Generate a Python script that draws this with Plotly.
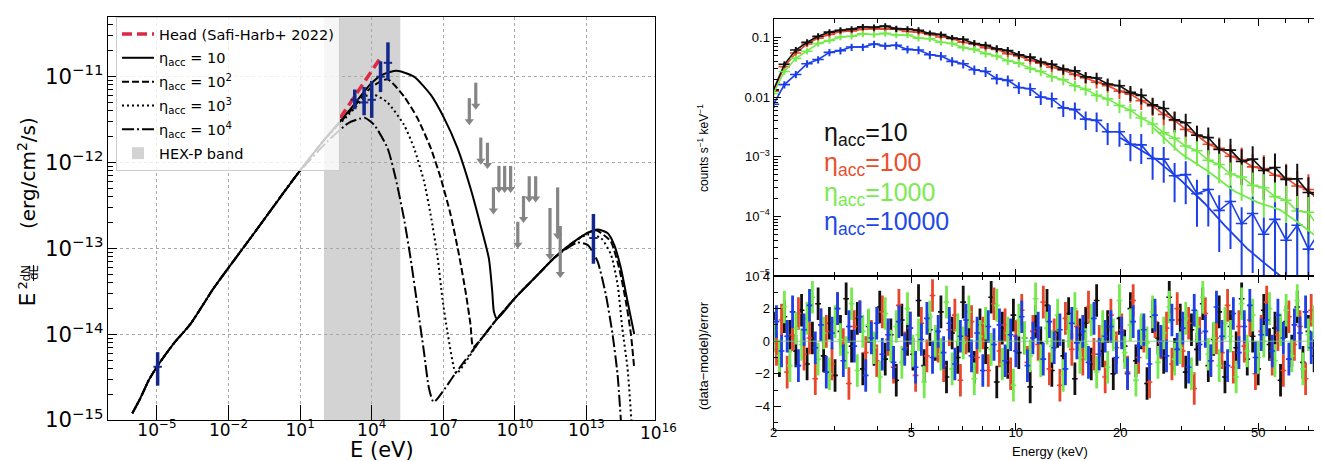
import plotly.graph_objects as go

# ===================== Left panel : broadband SED =====================
# shared low-energy synchrotron branch (E in eV, E^2 dN/dE in erg/cm2/s)
E_low = [9.33e-7, 2.0e-6, 4.47e-6, 1.0e-5, 5.01e-5, 2.57e-4, 2.45e-3, 0.1, 7.41, 100.0]
F_low = [1.20e-15, 1.78e-15, 2.88e-15, 4.17e-15, 7.76e-15, 1.32e-14, 3.47e-14, 1.41e-13, 7.24e-13, 1.82e-12]

# eta_acc = 10
E_eta1 = [1.10e3, 1.0e4, 3.16e4, 1.12e5, 5.89e5, 2.95e6, 1.07e7, 3.89e7, 1.38e8, 3.63e8,
          8.13e8, 1.12e9, 1.32e9, 1.78e9, 1.0e10, 8.91e10, 4.47e11, 2.19e12, 1.10e13, 2.88e13,
          7.59e13, 1.45e14, 2.75e14, 5.25e14, 1.0e15]
F_eta1 = [3.98e-12, 8.51e-12, 1.07e-11, 1.17e-11, 1.0e-11, 6.17e-12, 3.31e-12, 1.48e-12, 5.01e-13, 1.86e-13,
          7.59e-14, 3.16e-14, 1.82e-14, 1.51e-14, 2.63e-14, 4.90e-14, 7.76e-14, 1.12e-13, 1.51e-13, 1.66e-13,
          1.51e-13, 1.10e-13, 5.89e-14, 2.40e-14, 1.0e-14]
# eta_acc = 1e2
E_eta2 = [1.10e3, 1.0e4, 4.57e4, 2.24e5, 8.13e5, 2.95e6, 7.76e6, 2.04e7, 4.57e7, 8.51e7,
          1.38e8, 1.78e8, 3.98e8, 1.78e9, 1.0e10, 8.91e10, 4.47e11, 2.19e12, 1.10e13, 2.51e13,
          5.62e13, 1.05e14, 2.34e14, 4.47e14, 7.24e14, 1.0e15]
F_eta2 = [3.80e-12, 7.59e-12, 9.33e-12, 5.89e-12, 3.31e-12, 1.48e-12, 6.61e-13, 2.45e-13, 8.32e-14, 3.16e-14,
          1.29e-14, 7.08e-15, 8.91e-15, 1.51e-14, 2.63e-14, 4.90e-14, 7.76e-14, 1.12e-13, 1.51e-13, 1.62e-13,
          1.41e-13, 1.20e-13, 5.89e-14, 2.40e-14, 1.0e-14, 3.98e-15]
# eta_acc = 1e3
E_eta3 = [1.10e3, 6.31e3, 1.26e4, 4.57e4, 2.24e5, 5.89e5, 1.55e6, 2.95e6, 5.62e6, 9.12e6,
          1.48e7, 2.82e7, 3.55e7, 3.16e8, 1.78e9, 1.0e10, 8.91e10, 4.47e11, 2.19e12, 1.10e13,
          3.98e13, 1.05e14, 2.0e14, 3.16e14, 5.25e14, 7.59e14]
F_eta3 = [3.63e-12, 6.03e-12, 6.17e-12, 5.01e-12, 2.75e-12, 1.48e-12, 6.03e-13, 2.45e-13, 8.32e-14, 2.63e-14,
          1.07e-14, 3.98e-15, 3.47e-15, 8.13e-15, 1.51e-14, 2.63e-14, 4.90e-14, 7.76e-14, 1.12e-13, 1.45e-13,
          1.32e-13, 8.51e-14, 3.80e-14, 1.17e-14, 3.98e-15, 1.0e-15]
# eta_acc = 1e4 (branches off before the last low-energy point)
E_eta4 = [135.0, 1.05e3, 3.16e3, 5.25e3, 1.26e4, 4.57e4, 1.0e5, 2.24e5, 4.27e5, 8.13e5,
          1.55e6, 2.51e6, 3.98e6, 3.16e7, 3.16e8, 1.78e9, 1.0e10, 8.91e10, 4.47e11, 2.19e12,
          4.17e12, 1.10e13, 2.88e13, 6.46e13, 1.23e14, 2.0e14, 2.75e14]
F_eta4 = [1.74e-12, 2.88e-12, 3.24e-12, 3.31e-12, 2.75e-12, 1.48e-12, 6.61e-13, 2.24e-13, 7.59e-14, 2.19e-14,
          6.17e-15, 2.34e-15, 1.62e-15, 3.47e-15, 8.13e-15, 1.51e-14, 2.63e-14, 4.90e-14, 7.76e-14, 1.07e-13,
          1.17e-13, 1.10e-13, 7.08e-14, 2.88e-14, 1.0e-14, 3.39e-15, 1.0e-15]

# Head spectrum (Safi-Harb+ 2022)
head_E = [479.0, 2.34e4]
head_F = [3.31e-12, 1.66e-11]

# measured points (radio, X-ray, TeV)
pts_E = [1.07e-5, 1.95e3, 4.79e3, 1.0e4, 2.34e4, 4.79e4, 1.95e13]
pts_F = [4.17e-15, 5.37e-12, 5.01e-12, 5.37e-12, 1.0e-11, 1.45e-11, 1.32e-13]
pts_lo = [2.51e-15, 4.17e-12, 3.55e-12, 3.31e-12, 6.61e-12, 9.12e-12, 6.61e-14]
pts_hi = [6.17e-15, 7.08e-12, 7.59e-12, 8.91e-12, 1.51e-11, 2.51e-11, 2.51e-13]

# Fermi-LAT upper limits
ul_E = [1.23e8, 2.29e8, 3.72e8, 7.08e8, 1.26e9, 2.14e9, 3.72e9, 6.61e9, 1.32e10, 2.29e10,
        3.98e10, 7.41e10, 2.95e11, 6.17e11, 7.94e11]
ul_top = [5.62e-12, 8.51e-12, 1.95e-12, 1.70e-12, 5.13e-13, 9.12e-13, 9.12e-13, 9.12e-13, 2.04e-13, 4.07e-13,
          6.92e-13, 6.92e-13, 2.95e-13, 5.13e-13, 1.82e-13]
ul_tip = [3.02e-12, 4.57e-12, 1.05e-12, 9.33e-13, 2.75e-13, 4.90e-13, 4.90e-13, 4.90e-13, 1.10e-13, 2.19e-13,
          3.80e-13, 3.80e-13, 8.13e-14, 1.41e-13, 5.01e-14]

# HEX-P band (eV)
hexp_band = [100.0, 1.58e5]

# x tick labels of the SED
sed_tickvals = [1e-5, 1e-2, 1e1, 1e4, 1e7, 1e10, 1e13]
sed_ticktext = ["10<sup>−5</sup>", "10<sup>−2</sup>", "10<sup>1</sup>", "10<sup>4</sup>",
                "10<sup>7</sup>", "10<sup>10</sup>", "10<sup>13</sup>"]

# ===================== Right panel : simulated spectra =====================
E_spec = [2.00, 2.15, 2.32, 2.50, 2.69, 2.90, 3.12, 3.36, 3.62, 3.90,
          4.20, 4.52, 4.87, 5.24, 5.65, 6.08, 6.55, 7.05, 7.59, 8.18,
          8.81, 9.48, 10.2, 11.0, 11.8, 12.7, 13.7, 14.8, 15.9, 17.1,
          18.4, 19.9, 21.4, 23.0, 24.8, 26.7, 28.7, 30.9, 33.3, 35.9,
          38.6, 41.6, 44.8, 48.2, 51.9, 55.9, 60.2, 64.8, 69.8, 75.2]
cts_eta10 = [0.0132, 0.0355, 0.0617, 0.0832, 0.105, 0.123, 0.132, 0.138, 0.151, 0.148,
             0.155, 0.141, 0.138, 0.132, 0.117, 0.112, 0.0977, 0.0933, 0.0794, 0.0741,
             0.0646, 0.0603, 0.0513, 0.0468, 0.0389, 0.0355, 0.0295, 0.0275, 0.0219, 0.0209,
             0.0166, 0.0155, 0.0120, 0.0107, 0.00741, 0.00646, 0.00417, 0.00372, 0.00229, 0.00209,
             0.00132, 0.00129, 0.000832, 0.000912, 0.000589, 0.000661, 0.000417, 0.000427, 0.000251, 0.000219]
cts_eta100 = [0.0126, 0.0324, 0.0550, 0.0776, 0.0977, 0.112, 0.126, 0.129, 0.138, 0.141,
              0.138, 0.138, 0.126, 0.123, 0.112, 0.102, 0.0955, 0.0832, 0.0776, 0.0676,
              0.0631, 0.0537, 0.0490, 0.0417, 0.0372, 0.0316, 0.0282, 0.0240, 0.0209, 0.0178,
              0.0155, 0.0126, 0.0112, 0.00871, 0.00708, 0.00513, 0.00407, 0.00288, 0.00229, 0.00162,
              0.00138, 0.00102, 0.000891, 0.000676, 0.000631, 0.000490, 0.000437, 0.000324, 0.000282, 0.000166]
cts_eta1000 = [0.0115, 0.0269, 0.0447, 0.0589, 0.0794, 0.0891, 0.102, 0.105, 0.115, 0.112,
               0.117, 0.110, 0.110, 0.0977, 0.0955, 0.0832, 0.0794, 0.0676, 0.0631, 0.0537,
               0.0490, 0.0407, 0.0372, 0.0302, 0.0269, 0.0219, 0.0195, 0.0155, 0.0135, 0.0107,
               0.00933, 0.00724, 0.00603, 0.00447, 0.00355, 0.00251, 0.00204, 0.00151, 0.00126, 0.000871,
               0.000741, 0.000513, 0.000457, 0.000331, 0.000302, 0.000214, 0.000186, 0.000123, 0.000117, 0.0000603]
cts_eta10000 = [0.00759, 0.0162, 0.0240, 0.0363, 0.0427, 0.0562, 0.0603, 0.0692, 0.0692, 0.0776,
                0.0724, 0.0741, 0.0631, 0.0617, 0.0513, 0.0490, 0.0398, 0.0363, 0.0288, 0.0269,
                0.0204, 0.0191, 0.0145, 0.0138, 0.0100, 0.00933, 0.00661, 0.00617, 0.00427, 0.00407,
                0.00263, 0.00263, 0.00162, 0.00158, 0.000933, 0.000912, 0.000479, 0.000501, 0.000240, 0.000282,
                0.000126, 0.000178, 0.0000759, 0.000112, 0.0000501, 0.0000891, 0.0000398, 0.0000708, 0.0000282, 0.0000562]
err_pct = [12, 12, 12, 12, 12, 12, 12, 12, 12, 12, 12, 12, 12, 12, 12, 12, 13, 13, 14, 14,
           15, 15, 16, 16, 17, 18, 19, 20, 21, 22, 24, 26, 28, 30, 32, 35, 38, 41, 44, 48,
           52, 56, 60, 64, 68, 72, 75, 78, 80, 82]
err_pct_blue = [14, 14, 14, 14, 14, 14, 14, 14, 14, 14, 14, 15, 15, 15, 16, 16, 17, 17, 18, 19,
                20, 21, 22, 24, 26, 28, 30, 32, 34, 36, 40, 44, 48, 52, 56, 60, 64, 68, 72, 76,
                80, 84, 88, 90, 92, 94, 95, 96, 97, 97]
# visible model curves at high energy
model_E_green = [25.0, 30.0, 36.0, 42.7, 50.0, 57.8, 65.0, 72.7, 78.0]
model_green = [3.02e-3, 1.12e-3, 5.62e-4, 2.63e-4, 1.70e-4, 1.29e-4, 7.94e-5, 4.90e-5, 3.55e-5]
model_E_blue = [20.0, 25.0, 30.0, 35.0, 40.0, 46.5, 52.0, 58.0]
model_blue = [2.09e-3, 9.55e-4, 3.98e-4, 1.66e-4, 7.08e-5, 2.88e-5, 1.66e-5, 1.0e-5]

# residual energy bins (two interleaved channel sets)
E_res = [2.00, 2.08, 2.15, 2.23, 2.32, 2.41, 2.50, 2.59, 2.69, 2.79,
         2.90, 3.01, 3.12, 3.24, 3.36, 3.49, 3.62, 3.76, 3.90, 4.05,
         4.20, 4.36, 4.52, 4.69, 4.87, 5.05, 5.24, 5.44, 5.65, 5.86,
         6.08, 6.31, 6.55, 6.80, 7.05, 7.32, 7.59, 7.88, 8.18, 8.49,
         8.81, 9.14, 9.48, 9.84, 10.2, 10.6, 11.0, 11.4, 11.8, 12.3,
         12.7, 13.2, 13.7, 14.2, 14.8, 15.3, 15.9, 16.5, 17.1, 17.8,
         18.4, 19.1, 19.9, 20.6, 21.4, 22.2, 23.0, 23.9, 24.8, 25.7,
         26.7, 27.7, 28.7, 29.8, 30.9, 32.1, 33.3, 34.6, 35.9, 37.2,
         38.6, 40.1, 41.6, 43.2, 44.8, 46.5, 48.2, 50.0, 51.9, 53.9,
         55.9, 58.0, 60.2, 62.5, 64.8, 67.3, 69.8, 72.5, 75.2, 78.0]
E_res_b = [2.04, 2.11, 2.19, 2.27, 2.36, 2.45, 2.54, 2.64, 2.74, 2.84,
           2.95, 3.06, 3.18, 3.30, 3.42, 3.55, 3.69, 3.83, 3.97, 4.12,
           4.28, 4.44, 4.60, 4.78, 4.96, 5.14, 5.34, 5.54, 5.75, 5.97,
           6.19, 6.43, 6.67, 6.92, 7.18, 7.45, 7.73, 8.03, 8.33, 8.65,
           8.97, 9.31, 9.66, 10.0, 10.4, 10.8, 11.2, 11.6, 12.0, 12.5,
           12.9, 13.4, 13.9, 14.5, 15.0, 15.6, 16.2, 16.8, 17.4, 18.1,
           18.8, 19.5, 20.2, 21.0, 21.8, 22.6, 23.4, 24.3, 25.2, 26.2,
           27.2, 28.2, 29.2, 30.3, 31.5, 32.7, 33.9, 35.2, 36.5, 37.9,
           39.3, 40.8, 42.4, 44.0, 45.6, 47.3, 49.1, 51.0, 52.9, 54.9,
           57.0, 59.1, 61.3, 63.6, 66.0, 68.5, 71.1, 73.8, 76.6, 78.6]
res_eta10 = [0.8, -1.2, 1.5, 0.3, -0.6, 1.9, -1.4, 0.2, 2.3, -0.9,
             1.1, -2.1, 0.6, 2.6, -0.3, 1.4, -1.7, 0.9, -0.5, 2.1,
             -1.1, 0.4, -2.4, 1.3, 0.1, -0.8, 2.5, -1.5, 0.7, -0.2,
             1.8, -2.2, 0.5, -1.0, 2.4, 0.3, -1.6, 1.0, -0.4, 2.7,
             -2.5, 0.8, -1.3, 1.6, -0.7, 0.2, -2.8, 1.2, -0.1, 2.2,
             -1.8, 0.6, -0.9, 1.7, -2.3, 0.4, 1.1, -1.4, 2.5, -0.6,
             0.9, -2.0, 1.4, -0.3, 2.0, -1.2, 0.5, -2.6, 1.5, 0.2,
             -1.0, 2.7, -0.8, 1.3, -1.9, 0.7, -0.5, 2.3, -1.5, 0.1,
             1.8, -2.2, 0.9, -0.4, 2.6, -1.1, 0.3, -1.7, 1.9, -0.2,
             0.8, -2.4, 1.2, -0.6, 2.1, -1.3, 0.6, -0.9, 1.4, 0.2]
res_eta100 = [-0.5, 1.3, -1.9, 0.4, 1.7, -0.8, 0.2, -2.3, 1.0, 0.6,
              -1.4, 2.0, -0.2, -2.6, 0.9, 1.5, -0.7, 0.3, -1.2, 1.8,
              0.1, -1.6, 2.2, -0.4, 0.8, -2.1, 1.1, -0.9, 2.8, -0.3,
              -1.5, 0.7, 1.6, -2.4, 0.2, 1.2, -1.0, 0.5, -1.8, 2.3,
              -0.6, 1.0, -2.0, 0.3, 1.9, -1.3, 0.6, -0.2, 2.4, -1.7,
              0.4, -2.7, 1.4, -0.5, 0.9, -1.1, 2.1, -0.8, 0.0, -2.2,
              1.6, -0.4, 0.7, -1.9, 2.5, -1.0, 0.3, -2.5, 1.2, -0.1,
              0.8, -1.4, 2.0, -0.6, 1.1, -2.9, 0.5, 1.7, -1.2, 0.2,
              -0.7, 2.2, -1.6, 0.9, -0.3, 1.3, -2.0, 0.6, 2.4, -1.1,
              0.4, -1.8, 1.5, -0.2, 0.9, -2.3, 1.9, -0.5, 0.3, -3.0]
res_eta1000 = [0.3, -0.9, 2.1, -1.5, 0.8, -0.2, 1.4, 2.7, -1.1, 0.5,
               -2.0, 1.2, 0.1, -0.7, 2.3, -1.8, 0.6, 1.0, -0.4, -2.2,
               1.7, -0.3, 0.9, -1.3, 2.0, -0.6, 0.4, -2.5, 1.5, 0.0,
               -0.8, 2.4, -1.7, 0.7, -0.1, 1.8, -2.3, 0.3, 1.1, -0.5,
               2.2, -1.4, 0.5, -2.7, 1.3, 0.2, -0.9, 2.6, -1.2, 0.8,
               -0.3, 1.6, -2.1, 0.6, 2.0, -1.0, -0.2, 1.3, -1.9, 0.9,
               -1.6, 0.4, 2.5, -0.7, 1.0, -2.4, 0.7, -0.1, 1.8, -1.3,
               0.5, 2.1, -1.1, -0.4, 1.4, -2.0, 0.9, 2.7, -0.8, 0.2,
               -1.5, 1.1, 0.3, -2.2, 2.3, -0.6, 1.6, -1.0, 0.0, 2.0,
               -1.2, 0.7, 1.9, -0.9, 2.5, -1.7, 0.4, 1.2, 2.8, -0.6]
res_eta10000 = [1.2, -0.6, 0.3, 1.8, -1.5, 0.7, 2.2, -0.4, 1.0, -1.9,
                0.5, 2.0, -1.2, 0.9, -0.3, 1.5, -2.1, 0.2, 1.1, -0.8,
                0.4, -1.3, 1.2, -0.5, 0.8, -1.6, 0.1, 1.4, -1.0, 0.6,
                -0.7, 1.1, -1.4, 0.3, 1.3, -0.9, 0.5, -1.8, 0.9, -0.2,
                1.0, -1.2, 0.4, -0.6, 1.5, -1.5, 0.2, 0.8, -1.1, 1.2,
                -0.4, 0.7, -1.7, 1.1, -0.1, 0.6, -1.3, 1.4, -0.8, 0.3,
                0.9, -1.0, 0.5, -2.0, 1.2, -0.3, 0.7, -1.4, 1.6, 0.0,
                -0.9, 1.3, -0.5, 0.8, -1.6, 1.9, -0.2, 0.6, -1.2, 2.1,
                0.3, -1.5, 1.7, -0.7, 0.9, 2.2, -1.0, 0.4, 1.3, -0.6,
                1.6, 0.2, -1.1, 1.0, 0.5, 1.8, -0.4, 0.9, -1.8, 0.7]

eta_labels = ["η<sub>acc</sub>=10", "η<sub>acc</sub>=100", "η<sub>acc</sub>=1000", "η<sub>acc</sub>=10000"]

# ===================== styling =====================
W, H = 1322, 461
NAVY = "#14288c"
GRAYARROW = "#858585"
C_BLACK, C_RED, C_GREEN, C_BLUE = "#111111", "#e8472b", "#74ea4c", "#1d3fe8"
LFONT = "DejaVu Sans"
RFONT = "Liberation Sans, Arial, sans-serif"


def px(x):
    return x / W


def py(y):
    return 1 - y / H


fig = go.Figure()

# ---- left panel curves ----
curve_specs = [
    (E_low + E_eta1, F_low + F_eta1, "solid", "η<sub>acc</sub> = 10", 2),
    (E_low + E_eta2, F_low + F_eta2, "7px,3px", "η<sub>acc</sub> = 10<sup>2</sup>", 3),
    (E_low + E_eta3, F_low + F_eta3, "2px,3px", "η<sub>acc</sub> = 10<sup>3</sup>", 4),
    (E_low[:-1] + E_eta4, F_low[:-1] + F_eta4, "12px,3px,2px,3px", "η<sub>acc</sub> = 10<sup>4</sup>", 5),
]
for xs, ys, dash, name, rank in curve_specs:
    fig.add_trace(go.Scatter(x=xs, y=ys, mode="lines", name=name, legendrank=rank,
                             legendgroup="g%d" % rank,
                             line=dict(color="black", width=2, dash=dash, shape="spline", smoothing=0.6),
                             xaxis="x", yaxis="y"))

fig.add_trace(go.Scatter(x=head_E, y=head_F, mode="lines", name="Head (Safi-Harb+ 2022)",
                         legendrank=1, legendgroup="g1",
                         line=dict(color="#dc2a46", width=3.5, dash="10px,5px"),
                         xaxis="x", yaxis="y"))

# upper-limit arrows
sx, sy = [], []
for e, t, b in zip(ul_E, ul_top, ul_tip):
    sx += [e, e, None]
    sy += [t, b, None]
fig.add_trace(go.Scatter(x=sx, y=sy, mode="lines", showlegend=False,
                         line=dict(color=GRAYARROW, width=3.2), xaxis="x", yaxis="y"))
fig.add_trace(go.Scatter(x=ul_E, y=ul_tip, mode="markers", showlegend=False,
                         marker=dict(symbol="triangle-down", size=8, color=GRAYARROW),
                         xaxis="x", yaxis="y"))

# measured points
fig.add_trace(go.Scatter(
    x=pts_E, y=pts_F, mode="markers", showlegend=False,
    marker=dict(symbol="line-ew", size=6, color=NAVY, line=dict(color=NAVY, width=2)),
    error_y=dict(type="data", symmetric=False,
                 array=[h - f for h, f in zip(pts_hi, pts_F)],
                 arrayminus=[f - l for f, l in zip(pts_F, pts_lo)],
                 color=NAVY, thickness=3.5, width=0),
    xaxis="x", yaxis="y"))

# ---- right panel: spectra ----
spec_sets = [
    (cts_eta100, C_RED, err_pct),
    (cts_eta10, C_BLACK, err_pct),
    (cts_eta1000, C_GREEN, err_pct),
    (cts_eta10000, C_BLUE, err_pct_blue),
]
for vals, col, pct in spec_sets:
    fig.add_trace(go.Scatter(
        x=E_spec, y=vals, mode="lines+markers", showlegend=False,
        line=dict(color=col, width=1.6), marker=dict(size=3, color=col),
        error_y=dict(type="data", array=[v * p / 100.0 for v, p in zip(vals, pct)],
                     color=col, thickness=2, width=0),
        error_x=dict(type="percent", value=3.8, color=col, thickness=1.6, width=0),
        xaxis="x2", yaxis="y2"))

fig.add_trace(go.Scatter(x=model_E_green, y=model_green, mode="lines", showlegend=False,
                         line=dict(color=C_GREEN, width=1.8), xaxis="x2", yaxis="y2"))
fig.add_trace(go.Scatter(x=model_E_blue, y=model_blue, mode="lines", showlegend=False,
                         line=dict(color=C_BLUE, width=1.8), xaxis="x2", yaxis="y2"))

# ---- right panel: residuals ----
for ex, vals, col in [(E_res, res_eta10, C_BLACK), (E_res_b, res_eta100, C_RED),
                      (E_res, res_eta1000, C_GREEN), (E_res_b, res_eta10000, C_BLUE)]:
    fig.add_trace(go.Scatter(
        x=ex, y=vals, mode="markers", showlegend=False,
        marker=dict(size=3, color=col),
        error_y=dict(type="constant", value=1.0, color=col, thickness=2.8, width=0),
        error_x=dict(type="percent", value=1.9, color=col, thickness=1.6, width=0),
        xaxis="x3", yaxis="y3"))

# ---- shapes ----
shapes = [
    dict(type="rect", xref="x", yref="y domain", x0=hexp_band[0], x1=hexp_band[1], y0=0, y1=1,
         fillcolor="#d3d3d3", line=dict(width=0), layer="below",
         showlegend=True, name="HEX-P band", legendrank=6, legendgroup="g6"),
    dict(type="line", xref="x3 domain", yref="y3", x0=0, x1=1, y0=0, y1=0,
         line=dict(color="rgba(130,200,130,0.9)", width=1)),
    # fraction bar of dN/dE
    dict(type="line", xref="paper", yref="paper", x0=px(25.5), x1=px(25.5), y0=py(273), y1=py(257),
         line=dict(color="black", width=1)),
]

# ---- annotations ----
def note(text, x, y, size, family, angle=0, color="black", xanchor="center"):
    return dict(text=text, x=px(x), y=py(y), xref="paper", yref="paper", showarrow=False,
                xanchor=xanchor, yanchor="middle", textangle=angle,
                font=dict(family=family, size=size, color=color))


ann = [
    note("E (eV)", 374, 442, 21, LFONT),
    note("10<sup>16</sup>", 650, 424, 17, LFONT),
    note("(erg/cm<sup>2</sup>/s)", 19, 165, 20, LFONT, -90),
    note("E", 18.5, 292, 22, LFONT, -90),
    note("2", 13.5, 277, 13, LFONT, -90),
    note("dN", 17.5, 265, 12, LFONT, -90),
    note("dE", 26, 265, 12, LFONT, -90),
    note("Energy (keV)", 1042, 443, 13, RFONT),
    note("counts s<sup>−1</sup> keV<sup>−1</sup>", 695, 140, 12, RFONT, -90),
    note("(data−model)/error", 695, 348, 13, RFONT, -90),
]
for lab, col, yy in zip(eta_labels, [C_BLACK, "#e8502e", "#7bea52", "#2448e6"], [126, 156, 186, 215]):
    ann.append(note(lab, 814, yy, 25, RFONT, 0, col, "left"))

axis_common = dict(automargin=False, zeroline=False)

fig.update_layout(
    template="none",
    width=W, height=H, margin=dict(l=0, r=0, t=0, b=0, pad=0, autoexpand=False),
    paper_bgcolor="white", plot_bgcolor="white",
    shapes=shapes, annotations=ann,
    legend=dict(x=px(108), y=py(9), xanchor="left", yanchor="top",
                bgcolor="rgba(255,255,255,0.8)", bordercolor="#cccccc", borderwidth=1,
                font=dict(family=LFONT, size=14.5, color="black"), tracegroupgap=2, itemwidth=32),
    xaxis=dict(domain=[px(100), px(647)], type="log", range=[-7.05, 15.87],
               tickvals=sed_tickvals, ticktext=sed_ticktext, ticklabelstandoff=-6,
               ticks="inside", ticklen=15, tickcolor="black",
               showgrid=True, gridcolor="#a8a8a8", griddash="dot", gridwidth=1,
               showline=True, linecolor="black", linewidth=1.3, mirror=True,
               tickfont=dict(family=LFONT, size=17, color="black"), anchor="y", **axis_common),
    yaxis=dict(domain=[py(412), py(9)], type="log", range=[-15, -10.305],
               dtick=1, exponentformat="power", showexponent="all",
               ticks="inside", ticklen=9, tickcolor="black",
               minor=dict(ticks="inside", ticklen=5, tickcolor="black", dtick="D1", showgrid=False),
               showgrid=True, gridcolor="#a8a8a8", griddash="dot", gridwidth=1,
               showline=True, linecolor="black", linewidth=1.3, mirror=True,
               tickfont=dict(family=LFONT, size=17, color="black"), anchor="x", **axis_common),
    xaxis2=dict(domain=[px(765.5), px(1318.5)], type="log", range=[0.30103, 1.896],
                tickvals=[2, 5, 10, 20, 50], showticklabels=False,
                ticks="inside", ticklen=7, tickcolor="black",
                minor=dict(ticks="inside", ticklen=4, tickcolor="black",
                           tickvals=[3, 4, 6, 7, 8, 9, 30, 40, 60, 70]),
                showgrid=False, showline=True, linecolor="black", linewidth=1, mirror="ticks",
                anchor="y2", matches="x3", **axis_common),
    yaxis2=dict(domain=[py(268), py(11)], type="log", range=[-5, -0.69],
                tickvals=[1e-5, 1e-4, 1e-3, 0.01, 0.1],
                ticktext=["10<sup>−5</sup>", "10<sup>−4</sup>", "10<sup>−3</sup>", "0.01", "0.1"],
                ticks="inside", ticklen=7, tickcolor="black",
                minor=dict(ticks="inside", ticklen=4, tickcolor="black", dtick="D1"),
                showgrid=False, showline=True, linecolor="black", linewidth=1, mirror="ticks",
                tickfont=dict(family=RFONT, size=13, color="black"), anchor="x2", **axis_common),
    xaxis3=dict(domain=[px(765.5), px(1318.5)], type="log", range=[0.30103, 1.896],
                tickvals=[2, 5, 10, 20, 50], ticktext=["2", "5", "10", "20", "50"],
                ticklabelstandoff=-9,
                ticks="inside", ticklen=7, tickcolor="black",
                minor=dict(ticks="inside", ticklen=4, tickcolor="black",
                           tickvals=[3, 4, 6, 7, 8, 9, 30, 40, 60, 70]),
                showgrid=False, showline=True, linecolor="black", linewidth=1, mirror="ticks",
                tickfont=dict(family=RFONT, size=13, color="black"), anchor="y3", **axis_common),
    yaxis3=dict(domain=[py(421.7), py(268)], range=[-5.43, 4.0],
                tickvals=[-4, -2, 0, 2, 4], ticktext=["−4", "−2", "0", "2", "4"],
                ticks="inside", ticklen=7, tickcolor="black",
                minor=dict(ticks="inside", ticklen=4, tickcolor="black", dtick=1),
                showgrid=False, showline=True, linecolor="black", linewidth=1, mirror="ticks",
                tickfont=dict(family=RFONT, size=13, color="black"), anchor="x3", **axis_common),
)

fig.write_html("out.html")
